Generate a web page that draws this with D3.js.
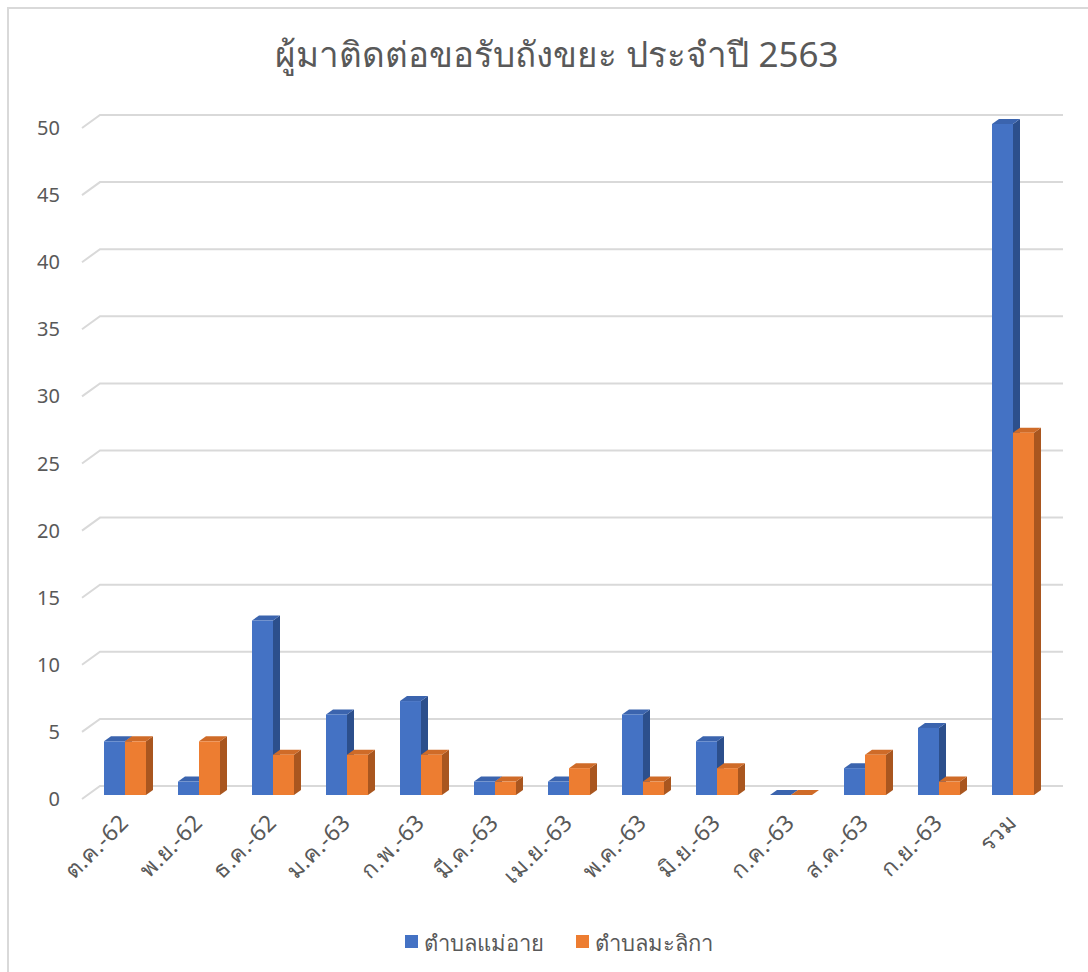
<!DOCTYPE html>
<html>
<head>
<meta charset="utf-8">
<script src="https://cdn.jsdelivr.net/npm/d3@7"></script>
<style>
  body { margin: 0; background: #fff; }
  text { font-family: "Noto Sans", "Segoe UI", sans-serif; fill: #595959; }
</style>
</head>
<body>
<div id="chart"></div>
<script>
const categories = ['ต.ค.-62','พ.ย.-62','ธ.ค.-62','ม.ค.-63','ก.พ.-63','มี.ค.-63','เม.ย.-63','พ.ค.-63','มิ.ย.-63','ก.ค.-63','ส.ค.-63','ก.ย.-63','รวม']
const seriesNames = ['ตำบลแม่อาย','ตำบลมะลิกา']
const maeAi = [4, 1, 13, 6, 7, 1, 1, 6, 4, 0, 2, 5, 50]
const malika = [4, 4, 3, 3, 3, 1, 2, 1, 2, 0, 3, 1, 27]
const yTicks = [0, 5, 10, 15, 20, 25, 30, 35, 40, 45, 50]
const title = 'ผู้มาติดต่อขอรับถังขยะ ประจำปี 2563'

const W = 1088, H = 972
const colors = [
  {front: '#4472c4', top: '#3b64ae', side: '#2c4f8c'},
  {front: '#ed7d31', top: '#cf6b28', side: '#a9561f'}
]
const dx = 7, dy = -5  // bar depth

var svg = d3.select('#chart').append('svg')
  .attr('width', W).attr('height', H)

// chart border (runs off the right and bottom edge)
svg.append('rect')
  .attr('x', 8).attr('y', 8).attr('width', W + 20).attr('height', H + 20)
  .attr('fill', 'none').attr('stroke', '#d9d9d9').attr('stroke-width', 2)

svg.append('text')
  .attr('x', 557).attr('y', 67)
  .attr('text-anchor', 'middle')
  .style('font-size', '35px')
  .text(title)

var x = d3.scaleBand().domain(categories).range([88, 1050])
var xs = d3.scaleBand().domain(seriesNames).range([-21, 21])
var y = d3.scaleLinear().domain([0, 50]).range([795, 124])

// gridlines: front edge, diagonal, back wall
svg.append('g').selectAll('path')
  .data(yTicks).join('path')
  .attr('d', d => `M82,${y(d) + 4}L100,${y(d) - 9}L1063,${y(d) - 9}`)
  .attr('fill', 'none').attr('stroke', '#d9d9d9').attr('stroke-width', 2)

svg.append('g').selectAll('text')
  .data(yTicks).join('text')
  .attr('x', 60).attr('y', d => y(d) + 4)
  .attr('dy', '0.35em')
  .attr('text-anchor', 'end')
  .style('font-size', '20px')
  .text(d => d)

// bars
var data = [maeAi, malika]
var bars = svg.append('g')
categories.forEach(function (c, i) {
  data.forEach(function (vals, s) {
    var x0 = x(c) + x.bandwidth() / 2 + xs(seriesNames[s])
    var w = xs.bandwidth()
    var y0 = y(0), y1 = y(vals[i])
    var g = bars.append('g')
    g.append('path')
      .attr('d', `M${x0 + w},${y1}L${x0 + w + dx},${y1 + dy}L${x0 + w + dx},${y0 + dy}L${x0 + w},${y0}Z`)
      .attr('fill', colors[s].side)
    g.append('path')
      .attr('d', `M${x0},${y1}L${x0 + w},${y1}L${x0 + w + dx},${y1 + dy}L${x0 + dx},${y1 + dy}Z`)
      .attr('fill', colors[s].top)
    g.append('rect')
      .attr('x', x0).attr('y', y1).attr('width', w).attr('height', y0 - y1)
      .attr('fill', colors[s].front)
  })
})

// category labels
svg.append('g').selectAll('text')
  .data(categories).join('text')
  .attr('text-anchor', 'end')
  .attr('transform', d => `translate(${x(d) + x.bandwidth() / 2 + 5},${824}) rotate(-45)`)
  .style('font-size', '23px')
  .style('letter-spacing', '0.5px')
  .text(d => d)

// legend
var legendX = [405, 576]
var legend = svg.append('g')
seriesNames.forEach(function (n, s) {
  legend.append('rect')
    .attr('x', legendX[s]).attr('y', 935).attr('width', 13).attr('height', 13)
    .attr('fill', colors[s].front)
  legend.append('text')
    .attr('x', legendX[s] + 19).attr('y', 951)
    .style('font-size', '22px')
    .text(n)
})
</script>
</body>
</html>
